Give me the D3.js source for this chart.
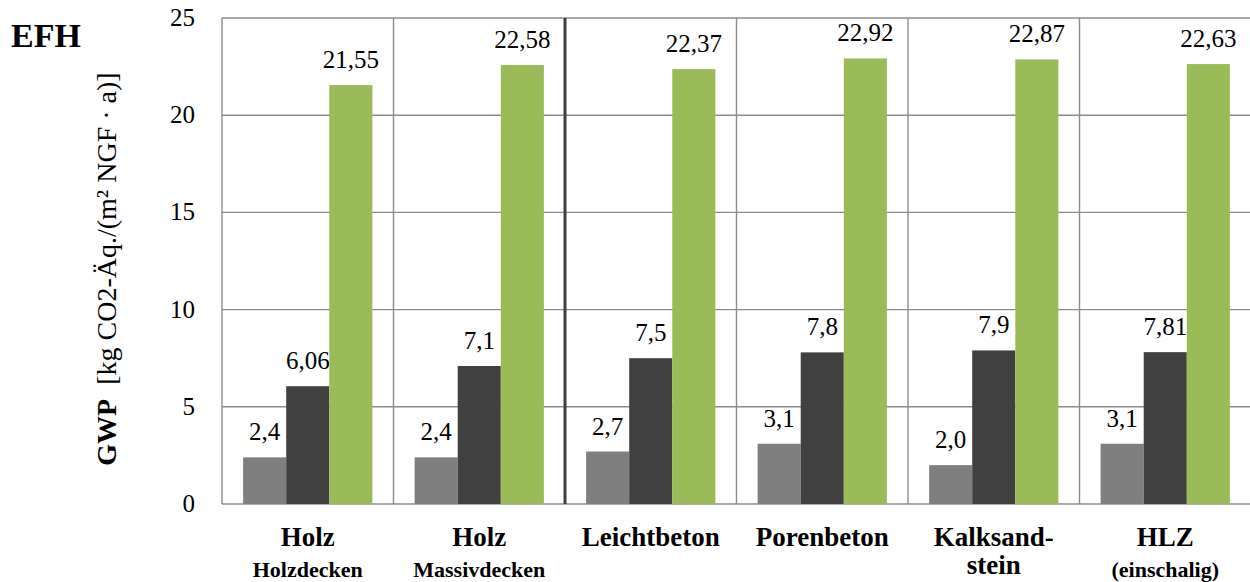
<!DOCTYPE html>
<html>
<head>
<meta charset="utf-8">
<script src="https://cdn.jsdelivr.net/npm/d3@7"></script>
<style>
  html, body { margin: 0; padding: 0; background: #fff; }
  svg text { font-family: "Liberation Serif", "DejaVu Serif", serif; fill: #000; }
</style>
</head>
<body>
<svg id="chart" width="1250" height="582"></svg>
<script>
// Building types (wall construction) and their label lines
const categories = ["Holz Holzdecken", "Holz Massivdecken", "Leichtbeton", "Porenbeton", "Kalksandstein", "HLZ (einschalig)"];
const mainLabels = [["Holz"], ["Holz"], ["Leichtbeton"], ["Porenbeton"], ["Kalksand-", "stein"], ["HLZ"]];
const subLabels = ["Holzdecken", "Massivdecken", "", "", "", "(einschalig)"];

// GWP values per series, kg CO2-Äq./(m² NGF · a)
const seriesNames = ["s1", "s2", "s3"];
const series1 = [2.4, 2.4, 2.7, 3.1, 2.0, 3.1];
const series2 = [6.06, 7.1, 7.5, 7.8, 7.9, 7.81];
const series3 = [21.55, 22.58, 22.37, 22.92, 22.87, 22.63];
// printed labels, as given in the source table
const labels1 = ["2,4", "2,4", "2,7", "3,1", "2,0", "3,1"];
const labels2 = ["6,06", "7,1", "7,5", "7,8", "7,9", "7,81"];
const labels3 = ["21,55", "22,58", "22,37", "22,92", "22,87", "22,63"];

const yTicks = [0, 5, 10, 15, 20, 25];
const colors = ["#7f7f7f", "#404040", "#9bbb59"];

const svg = d3.select("#chart");
const plot = { left: 222, right: 1251, top: 18, bottom: 504 };

const x = d3.scaleBand().domain(categories).range([plot.left, plot.right]).padding(0);
const xs = d3.scaleBand().domain(seriesNames).range([0, x.bandwidth()]).paddingInner(0).paddingOuter(0.49);
const y = d3.scaleLinear().domain([0, 25]).range([plot.bottom, plot.top]);

const gridColor = "#8c8c8c";

// horizontal grid lines
svg.append("g").selectAll("line").data(yTicks).join("line")
  .attr("x1", plot.left).attr("x2", plot.right)
  .attr("y1", d => y(d)).attr("y2", d => y(d))
  .attr("stroke", gridColor).attr("stroke-width", 1.4);

// vertical category separators
const seps = categories.map(c => x(c));
svg.append("g").selectAll("line").data(seps).join("line")
  .attr("x1", d => d).attr("x2", d => d)
  .attr("y1", plot.top).attr("y2", plot.bottom)
  .attr("stroke", (d, i) => i === 2 ? "#404040" : gridColor)
  .attr("stroke-width", (d, i) => i === 2 ? 3 : 1.4);

// y tick labels
svg.append("g").selectAll("text").data(yTicks).join("text")
  .attr("x", 195).attr("y", d => y(d) + 8)
  .attr("text-anchor", "end")
  .style("font-size", "25px")
  .text(d => d);

// bars and value labels
const allSeries = [
  { key: "s1", values: series1, labels: labels1 },
  { key: "s2", values: series2, labels: labels2 },
  { key: "s3", values: series3, labels: labels3 }
];

allSeries.forEach((s, si) => {
  const g = svg.append("g");
  g.selectAll("rect").data(categories).join("rect")
    .attr("x", c => x(c) + xs(s.key))
    .attr("width", xs.bandwidth())
    .attr("y", (c, i) => y(s.values[i]))
    .attr("height", (c, i) => y(0) - y(s.values[i]))
    .attr("fill", colors[si]);
  g.selectAll("text").data(categories).join("text")
    .attr("x", c => x(c) + xs(s.key) + xs.bandwidth() / 2)
    .attr("y", (c, i) => y(s.values[i]) - 17)
    .attr("text-anchor", "middle")
    .style("font-size", "25px")
    .text((c, i) => s.labels[i]);
});

// category labels
const xl = svg.append("g");
categories.forEach((c, i) => {
  const cx = x(c) + x.bandwidth() / 2;
  mainLabels[i].forEach((line, li) => {
    xl.append("text")
      .attr("x", cx).attr("y", 546 + li * 28)
      .attr("text-anchor", "middle")
      .style("font-size", "27px").style("font-weight", "bold")
      .text(line);
  });
  if (subLabels[i]) {
    xl.append("text")
      .attr("x", cx).attr("y", 577)
      .attr("text-anchor", "middle")
      .style("font-size", "22px").style("font-weight", "bold")
      .text(subLabels[i]);
  }
});

// y axis title
const yt = svg.append("text")
  .attr("transform", "translate(116,269) rotate(-90)")
  .attr("text-anchor", "middle")
  .style("font-size", "28px");
yt.append("tspan").style("font-weight", "bold").text("GWP");
yt.append("tspan").text("\u00a0 [kg CO2-Äq./(m² NGF · a)]");

// chart title
svg.append("text")
  .attr("x", 11).attr("y", 47)
  .style("font-size", "34px").style("font-weight", "bold")
  .text("EFH");
</script>
</body>
</html>
